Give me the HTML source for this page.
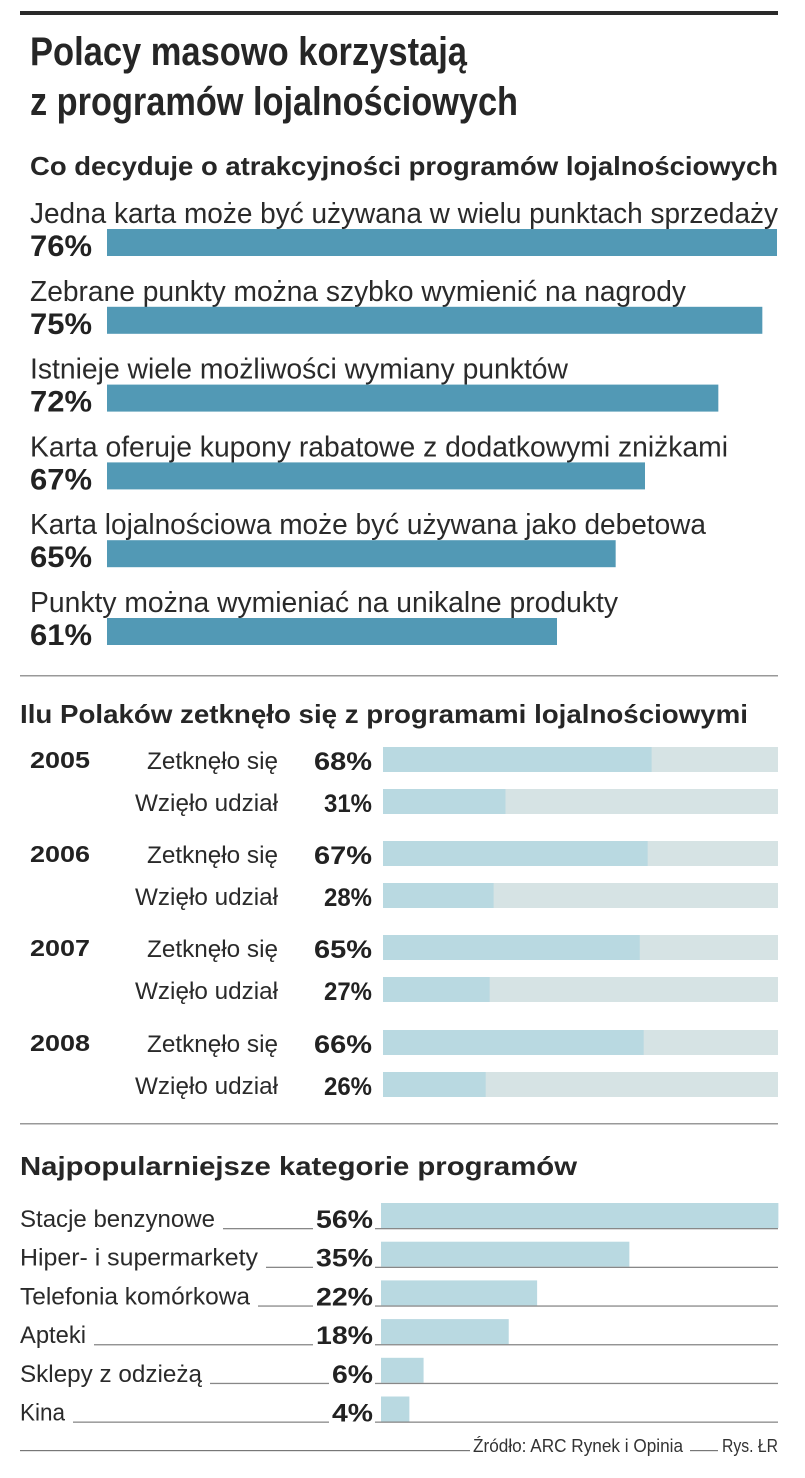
<!DOCTYPE html>
<html><head><meta charset="utf-8">
<style>
html,body{margin:0;padding:0;background:#fff;}
svg{display:block;font-family:"Liberation Sans",sans-serif;}
</style></head>
<body>
<svg id="chart" width="805" height="1478" viewBox="0 0 805 1478" xmlns="http://www.w3.org/2000/svg">
<rect x="20" y="11" width="758" height="4" fill="#2a2a2a"/>
<text x="30" y="65" font-size="40" font-weight="bold" fill="#262626" textLength="437" lengthAdjust="spacingAndGlyphs">Polacy masowo korzystają</text>
<text x="30" y="115" font-size="40" font-weight="bold" fill="#262626" textLength="488" lengthAdjust="spacingAndGlyphs">z programów lojalnościowych</text>
<text x="30" y="175" font-size="26" font-weight="bold" fill="#262626" textLength="748" lengthAdjust="spacingAndGlyphs">Co decyduje o atrakcyjności programów lojalnościowych</text>
<g id="s1"></g>
<rect x="20" y="675" width="758" height="1.5" fill="#999"/>
<text x="20" y="723" font-size="26" font-weight="bold" fill="#262626" textLength="728" lengthAdjust="spacingAndGlyphs">Ilu Polaków zetknęło się z programami lojalnościowymi</text>
<g id="s2"></g>
<rect x="20" y="1123" width="758" height="1.5" fill="#999"/>
<text x="20" y="1175" font-size="26" font-weight="bold" fill="#262626" textLength="557" lengthAdjust="spacingAndGlyphs">Najpopularniejsze kategorie programów</text>
<g id="s3"></g>
<rect x="20" y="1450" width="450" height="1.2" fill="#777"/>
<text x="473" y="1452" font-size="18" fill="#333" textLength="210" lengthAdjust="spacingAndGlyphs">Źródło: ARC Rynek i Opinia</text>
<rect x="690" y="1450" width="28" height="1.2" fill="#777"/>
<text x="722" y="1452" font-size="18" fill="#333" textLength="56" lengthAdjust="spacingAndGlyphs">Rys. ŁR</text>
</svg>
<script>
const s1Labels = ["Jedna karta może być używana w wielu punktach sprzedaży","Zebrane punkty można szybko wymienić na nagrody","Istnieje wiele możliwości wymiany punktów","Karta oferuje kupony rabatowe z dodatkowymi zniżkami","Karta lojalnościowa może być używana jako debetowa","Punkty można wymieniać na unikalne produkty"];
const s1Values = [76,75,72,67,65,61];
const s2Years = ["2005","2006","2007","2008"];
const s2Seen = [68,67,65,66];
const s2Joined = [31,28,27,26];
const s2RowLabels = ["Zetknęło się","Wzięło udział"];
const s3Labels = ["Stacje benzynowe","Hiper- i supermarkety","Telefonia komórkowa","Apteki","Sklepy z odzieżą","Kina"];
const s3Values = [56,35,22,18,6,4];

const NS="http://www.w3.org/2000/svg";
function mk(parent,tag,attrs,txt){const e=document.createElementNS(NS,tag);for(const k in attrs)e.setAttribute(k,attrs[k]);if(txt!==undefined)e.textContent=txt;parent.appendChild(e);return e;}

// Section 1
const x1=v=>557+(v-61)*(220/15);
const s1=document.getElementById('s1');
const s1LabelW=[748,656,538,698,676,588];
s1Values.forEach((v,i)=>{
  const top=229+i*77.8;
  const lab=mk(s1,'text',{x:30,y:top-6,'font-size':29,fill:'#2a2a2a',textLength:s1LabelW[i],lengthAdjust:'spacingAndGlyphs'},s1Labels[i]);
  
  
  const pct=mk(s1,'text',{x:30,y:top+27,'font-size':30,'font-weight':'bold',fill:'#222',textLength:62,lengthAdjust:'spacingAndGlyphs'},v+'%');
  
  
  const b=mk(s1,'rect',{x:107,y:top,width:x1(v)-107,height:27,fill:'#5299b5'});
  
  
});

// Section 2
const x2=v=>383+v*3.95;
const s2=document.getElementById('s2');
const yearTops=[747,841,935,1030];
s2Years.forEach((yr,i)=>{
  const vals=[s2Seen[i],s2Joined[i]];
  const yt=mk(s2,'text',{x:30,y:yearTops[i]+21,'font-size':23,'font-weight':'bold',fill:'#222',textLength:60,lengthAdjust:'spacingAndGlyphs'},yr);
  
  
  vals.forEach((v,j)=>{
    const top=yearTops[i]+j*42;
    const rl=mk(s2,'text',{x:278,y:top+22,'font-size':24,fill:'#2a2a2a','text-anchor':'end',textLength:j?143:131,lengthAdjust:'spacingAndGlyphs'},s2RowLabels[j]);
    
    
    const pv=mk(s2,'text',{x:372,y:top+23,'font-size':25,'font-weight':'bold',fill:'#222','text-anchor':'end',textLength:j?48:58,lengthAdjust:'spacingAndGlyphs'},v+'%');
    
    
    const bg=mk(s2,'rect',{x:x2(0),y:top,width:x2(100)-x2(0),height:25,fill:'#d6e3e4'});
    
    
    const b=mk(s2,'rect',{x:x2(0),y:top,width:x2(v)-x2(0),height:25,fill:'#b9d9e1'});
    
    
  });
});

// Section 3
const x3=v=>381+v*(369/52);
const s3=document.getElementById('s3');
const s3LabelW=[195,238,230,66,182,45];
s3Values.forEach((v,i)=>{
  const top=1203+i*38.7;
  const base=top+25;
  const lab=mk(s3,'text',{x:20,y:base-1,'font-size':24,fill:'#2a2a2a',textLength:s3LabelW[i],lengthAdjust:'spacingAndGlyphs'},s3Labels[i]);
  
  
  const pw=(String(v).length===2)?57:41;
  const ln=mk(s3,'rect',{x:20+s3LabelW[i]+8,y:base,width:(372-pw)-(20+s3LabelW[i]+8)-2,height:1.3,fill:'#888'});
  
  
  const pv=mk(s3,'text',{x:373,y:base,'font-size':25,'font-weight':'bold',fill:'#222','text-anchor':'end',textLength:pw,lengthAdjust:'spacingAndGlyphs'},v+'%');
  
  
  const b=mk(s3,'rect',{x:x3(0),y:top,width:x3(v)-x3(0),height:25,fill:'#b9d9e1'});
  
  
  const bl=mk(s3,'rect',{x:375,y:base,width:403,height:1.3,fill:'#888'});
  
  
});
</script>
</body></html>
